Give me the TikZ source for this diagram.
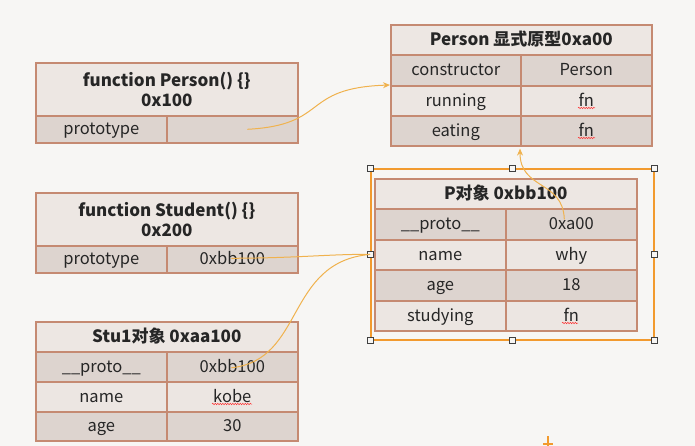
\documentclass[tikz,border=0pt]{standalone}
\usepackage{fontspec}
\setmainfont{Noto Sans CJK SC}
\usetikzlibrary{arrows.meta,decorations.pathmorphing}
\definecolor{bg}{HTML}{F7F6F4}
\definecolor{hdr}{HTML}{EDE7E3}
\definecolor{drk}{HTML}{DDD4CF}
\definecolor{lit}{HTML}{ECE6E2}
\definecolor{bord}{HTML}{C58A72}
\definecolor{conn}{HTML}{F0B24E}
\definecolor{selc}{HTML}{F29A2E}
\definecolor{txt}{HTML}{262626}
\tikzset{
  cell/.style={draw=bord, line width=1.6pt, inner sep=0pt, anchor=north west, text=txt, font=\fontsize{16.5}{20}\selectfont, align=center},
  one/.style={text height=12.5pt, text depth=1.5pt},
  hcell/.style={cell, fill=hdr, font=\fontsize{17}{20}\selectfont\bfseries},
  dcell/.style={cell, one, fill=drk},
  lcell/.style={cell, one, fill=lit},
  link/.style={draw=conn, line width=1pt},
  handle/.style={draw=black!75, fill=bg, line width=0.7pt, minimum size=6pt, inner sep=0pt},
  spell/.style={draw=red!80, line width=0.5pt, decorate, decoration={snake, segment length=2.5pt, amplitude=0.7pt}}
}
\begin{document}
\begin{tikzpicture}[x=1pt,y=-1pt]
\useasboundingbox[fill=bg] (0,0) rectangle (695,446);
% function Person
\node[hcell, minimum width=262pt, minimum height=53pt] (fph) at (35,62) {function Person() \{\}\\0x100};
\node[dcell, minimum width=131pt, minimum height=27pt] (fpk) at (35,115) {prototype};
\node[dcell, minimum width=131pt, minimum height=27pt] (fpv) at (166,115) {};
% function Student
\node[hcell, minimum width=262pt, minimum height=53pt] (fsh) at (35,192) {function Student() \{\}\\0x200};
\node[dcell, minimum width=131pt, minimum height=27pt] (fsk) at (35,245) {prototype};
\node[dcell, minimum width=131pt, minimum height=27pt] (fsv) at (166,245) {0xbb100};
% Stu1
\node[hcell, one, minimum width=262pt, minimum height=30pt] (sh) at (35,321) {Stu1对象 0xaa100};
\node[dcell, minimum width=131pt, minimum height=30pt] (sk1) at (35,351) {\_\_proto\_\_};
\node[dcell, minimum width=131pt, minimum height=30pt] (sv1) at (166,351) {0xbb100};
\node[lcell, minimum width=131pt, minimum height=30pt] (sk2) at (35,381) {name};
\node[lcell, minimum width=131pt, minimum height=30pt] (sv2) at (166,381) {kobe};
\node[dcell, minimum width=131pt, minimum height=29pt] (sk3) at (35,411) {age};
\node[dcell, minimum width=131pt, minimum height=29pt] (sv3) at (166,411) {30};
% Person prototype
\node[hcell, one, minimum width=261pt, minimum height=30pt] (ph) at (390,24) {Person 显式原型0xa00};
\node[dcell, minimum width=130pt, minimum height=31pt] (pk1) at (390,54) {constructor};
\node[dcell, minimum width=131pt, minimum height=31pt] (pv1) at (520,54) {Person};
\node[lcell, minimum width=130pt, minimum height=30pt] (pk2) at (390,85) {running};
\node[lcell, minimum width=131pt, minimum height=30pt] (pv2) at (520,85) {fn};
\node[dcell, minimum width=130pt, minimum height=30pt] (pk3) at (390,115) {eating};
\node[dcell, minimum width=131pt, minimum height=30pt] (pv3) at (520,115) {fn};
% P object
\node[hcell, one, minimum width=262pt, minimum height=30pt] (oh) at (374,178) {P对象 0xbb100};
\node[dcell, minimum width=131pt, minimum height=31pt] (ok1) at (374,208) {\_\_proto\_\_};
\node[dcell, minimum width=131pt, minimum height=31pt] (ov1) at (505,208) {0xa00};
\node[lcell, minimum width=131pt, minimum height=30pt] (ok2) at (374,239) {name};
\node[lcell, minimum width=131pt, minimum height=30pt] (ov2) at (505,239) {why};
\node[dcell, minimum width=131pt, minimum height=31pt] (ok3) at (374,269) {age};
\node[dcell, minimum width=131pt, minimum height=31pt] (ov3) at (505,269) {18};
\node[lcell, minimum width=131pt, minimum height=30pt] (ok4) at (374,300) {studying};
\node[lcell, minimum width=131pt, minimum height=30pt] (ov4) at (505,300) {fn};
% spell-check marks
\draw[spell] (578,108) -- (595,108);
\draw[spell] (578,138) -- (595,138);
\draw[spell] (562,323) -- (578,323);
\draw[spell] (212,404) -- (252,404);
% selection frame
\node[draw=selc, line width=1.8pt, minimum width=283pt, minimum height=171pt, inner sep=0pt, anchor=north west] (sel) at (370,168) {};
\foreach \a in {north west,north,north east,west,east,south west,south,south east}
  \node[handle] at (sel.\a) {};
% connectors
\draw[link, -{Stealth[length=7pt,width=6pt]}] ([xshift=15pt]fpv.center) .. controls (330,125) and (300,88) .. (pk2.north west);
\draw[link, -{Stealth[length=7pt,width=6pt]}] ([xshift=-7pt,yshift=5pt]ov1.center) .. controls (563,180) and (520,190) .. ([yshift=-2pt]pv3.south west);
\draw[link] ([xshift=-1pt,yshift=1pt]fsv.center) .. controls (300,258) and (330,254) .. (sel.west);
\draw[link] ([xshift=-1pt,yshift=-1pt]sv1.center) .. controls (305,360) and (285,262) .. (sel.west);
% small mark at bottom
\draw[selc, line width=1.2pt] (548,436) -- (548,446);
\draw[selc, line width=1.2pt] (543,444) -- (553,444);
\end{tikzpicture}
\end{document}
